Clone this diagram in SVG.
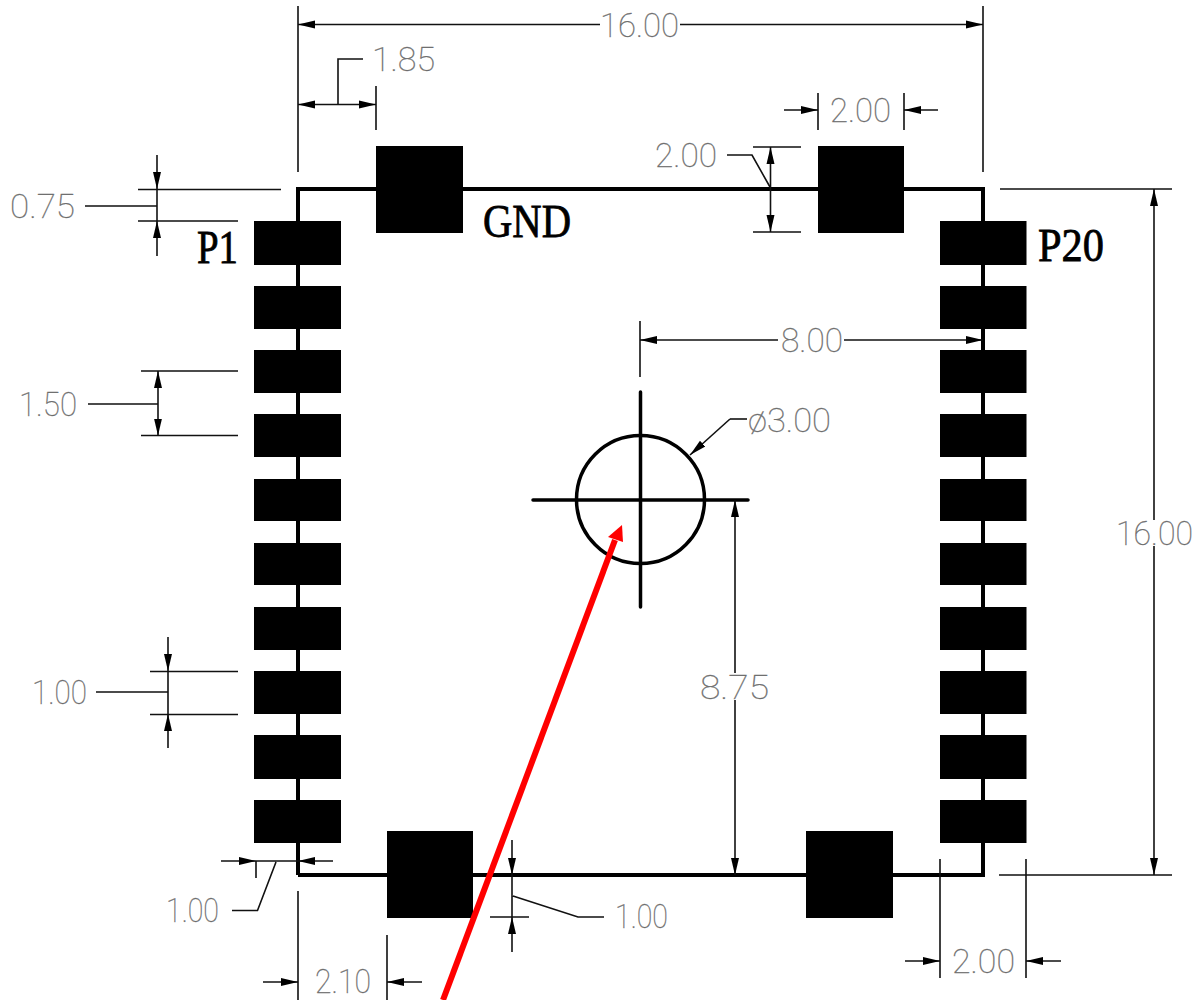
<svg xmlns="http://www.w3.org/2000/svg" width="1203" height="1000" viewBox="0 0 1203 1000">
<style>
.pad{fill:#000}
.out{fill:none;stroke:#000;stroke-width:4}
.cen{fill:none;stroke:#000;stroke-width:3.5;stroke-linecap:round}
.dim{fill:none;stroke:#111;stroke-width:1.6}
.arr{fill:none;stroke:#111;stroke-width:1.6;marker-start:url(#ah);marker-end:url(#ah)}
.one{fill:none;stroke:#111;stroke-width:1.6;marker-end:url(#ah)}
.t{font-family:Roboto,"Liberation Sans",sans-serif;font-weight:100;font-size:33px;fill:#666;stroke:#777;stroke-width:.3}
.s{font-family:"Liberation Serif",serif;font-size:47px;fill:#000;stroke:#000;stroke-width:.8}
</style>
<defs>
<marker id="ah" markerUnits="userSpaceOnUse" markerWidth="18" markerHeight="10" refX="17" refY="5" orient="auto-start-reverse"><path d="M0 1 L17 5 L0 9 Z" fill="#000"/></marker>
</defs>
<rect width="1203" height="1000" fill="#fff"/>
<g id="outline"><path class="out" d="M298 875V189H983V875H298"/></g>
<g id="pads-left">
<rect class="pad" x="254" y="221" width="87" height="44"/><rect class="pad" x="254" y="286" width="87" height="43"/><rect class="pad" x="254" y="350" width="87" height="43"/><rect class="pad" x="254" y="414" width="87" height="43"/><rect class="pad" x="254" y="479" width="87" height="42"/><rect class="pad" x="254" y="543" width="87" height="42"/><rect class="pad" x="254" y="607" width="87" height="43"/><rect class="pad" x="254" y="671" width="87" height="43"/><rect class="pad" x="254" y="735" width="87" height="44"/><rect class="pad" x="254" y="800" width="87" height="43"/>
</g>
<g id="pads-right">
<rect class="pad" x="940" y="221" width="86.500" height="44"/><rect class="pad" x="940" y="286" width="86.500" height="43"/><rect class="pad" x="940" y="350" width="86.500" height="43"/><rect class="pad" x="940" y="414" width="86.500" height="43"/><rect class="pad" x="940" y="479" width="86.500" height="42"/><rect class="pad" x="940" y="543" width="86.500" height="42"/><rect class="pad" x="940" y="607" width="86.500" height="43"/><rect class="pad" x="940" y="671" width="86.500" height="43"/><rect class="pad" x="940" y="735" width="86.500" height="44"/><rect class="pad" x="940" y="800" width="86.500" height="43"/>
</g>
<g id="pads-gnd">
<rect class="pad" x="376" y="146" width="87" height="87"/><rect class="pad" x="818" y="146" width="86" height="87"/><rect class="pad" x="387" y="831" width="86" height="87"/><rect class="pad" x="806" y="831" width="87" height="87"/>
</g>
<g id="hole">
<circle cx="640.500" cy="499.500" r="64" fill="none" stroke="#000" stroke-width="3.500"/>
<path class="cen" d="M533 500H748M640.500 392V607"/>
</g>
<g id="connectors">
<path class="dim" d="M298 6V172M983 6V172M376 86V130"/>
<path class="one" d="M600 24.500H298"/><path class="one" d="M680 24.500H983"/>
<path class="arr" d="M298 104.500H376"/><path class="dim" d="M338 104V59H363"/>
<path class="dim" d="M138 189.500H281M138 221H238M85 206H157"/>
<path class="one" d="M157 155V189"/><path class="one" d="M157 256V221"/><path class="dim" d="M157 189V221"/>
<path class="dim" d="M818 93V130M904 93V130"/>
<path class="one" d="M784 110H818"/><path class="one" d="M938 110H904"/>
<path class="dim" d="M753 147H801M753 232H801M727 155H752L770 187"/>
<path class="arr" d="M770.500 147V232"/>
<path class="dim" d="M640 321V377"/>
<path class="one" d="M778 340H640"/><path class="one" d="M844 340H983"/>
<path class="dim" d="M141 371H238M141 435.500H238M88 404H158"/>
<path class="arr" d="M158 371V435.500"/>
<path class="dim" d="M150 671.500H238M150 714.500H238M96 692H168M168 671V714"/>
<path class="one" d="M168 637V671"/><path class="one" d="M168 748V714"/>
<path class="one" d="M730 419L690 455"/><path class="dim" d="M730 419H747"/>
<path class="one" d="M735 673V500"/><path class="one" d="M735 700V875"/>
<path class="dim" d="M1000 189H1172M999 875H1172"/>
<path class="one" d="M1154 520V189"/><path class="one" d="M1154 546V875"/>
<path class="one" d="M221 861H256"/><path class="one" d="M333 861H298"/>
<path class="dim" d="M256 861V878M256 861H298M276 862L257.500 910.500H232"/>
<path class="dim" d="M298 891V1000M387 935V1000"/>
<path class="one" d="M263 982H298"/><path class="one" d="M422 982H387"/>
<path class="one" d="M512 840V875"/><path class="one" d="M512 952V917"/>
<path class="dim" d="M512 875V917M490 917H529M513 896L578 917H604"/>
<path class="dim" d="M940 859V978M1026 859V978"/>
<path class="one" d="M905 961H940"/><path class="one" d="M1061 961H1026"/>
</g>
<g id="labels">
<text class="t" x="600" y="37" textLength="79" lengthAdjust="spacingAndGlyphs">16.00</text>
<text class="t" x="372" y="71" textLength="63" lengthAdjust="spacingAndGlyphs">1.85</text>
<text class="t" x="10" y="218" textLength="65" lengthAdjust="spacingAndGlyphs">0.75</text>
<text class="t" x="830" y="122" textLength="61" lengthAdjust="spacingAndGlyphs">2.00</text>
<text class="t" x="655" y="167" textLength="62" lengthAdjust="spacingAndGlyphs">2.00</text>
<text class="t" x="781" y="352" textLength="62" lengthAdjust="spacingAndGlyphs">8.00</text>
<text class="t" x="19" y="416" textLength="58" lengthAdjust="spacingAndGlyphs">1.50</text>
<text class="t" x="32" y="704" textLength="55" lengthAdjust="spacingAndGlyphs">1.00</text>
<text class="t" x="748" y="432" textLength="83" lengthAdjust="spacingAndGlyphs">ø3.00</text>
<text class="t" x="700" y="699" textLength="69" lengthAdjust="spacingAndGlyphs">8.75</text>
<text class="t" x="1116" y="545" textLength="77" lengthAdjust="spacingAndGlyphs">16.00</text>
<text class="t" x="166" y="922" textLength="53" lengthAdjust="spacingAndGlyphs">1.00</text>
<text class="t" x="315" y="993" textLength="56" lengthAdjust="spacingAndGlyphs">2.10</text>
<text class="t" x="615" y="928" textLength="53" lengthAdjust="spacingAndGlyphs">1.00</text>
<text class="t" x="952" y="973" textLength="63" lengthAdjust="spacingAndGlyphs">2.00</text>
<text class="s" x="197" y="263" textLength="41" lengthAdjust="spacingAndGlyphs">P1</text>
<text class="s" x="483" y="237" textLength="88" lengthAdjust="spacingAndGlyphs">GND</text>
<text class="s" x="1038" y="261" textLength="66" lengthAdjust="spacingAndGlyphs">P20</text>
</g>
<g id="red-arrow">
<path d="M443 1000L615 540" fill="none" stroke="#f00" stroke-width="6"/>
<path d="M622 525L608 537L623 542Z" fill="#f00"/>
</g>
</svg>
